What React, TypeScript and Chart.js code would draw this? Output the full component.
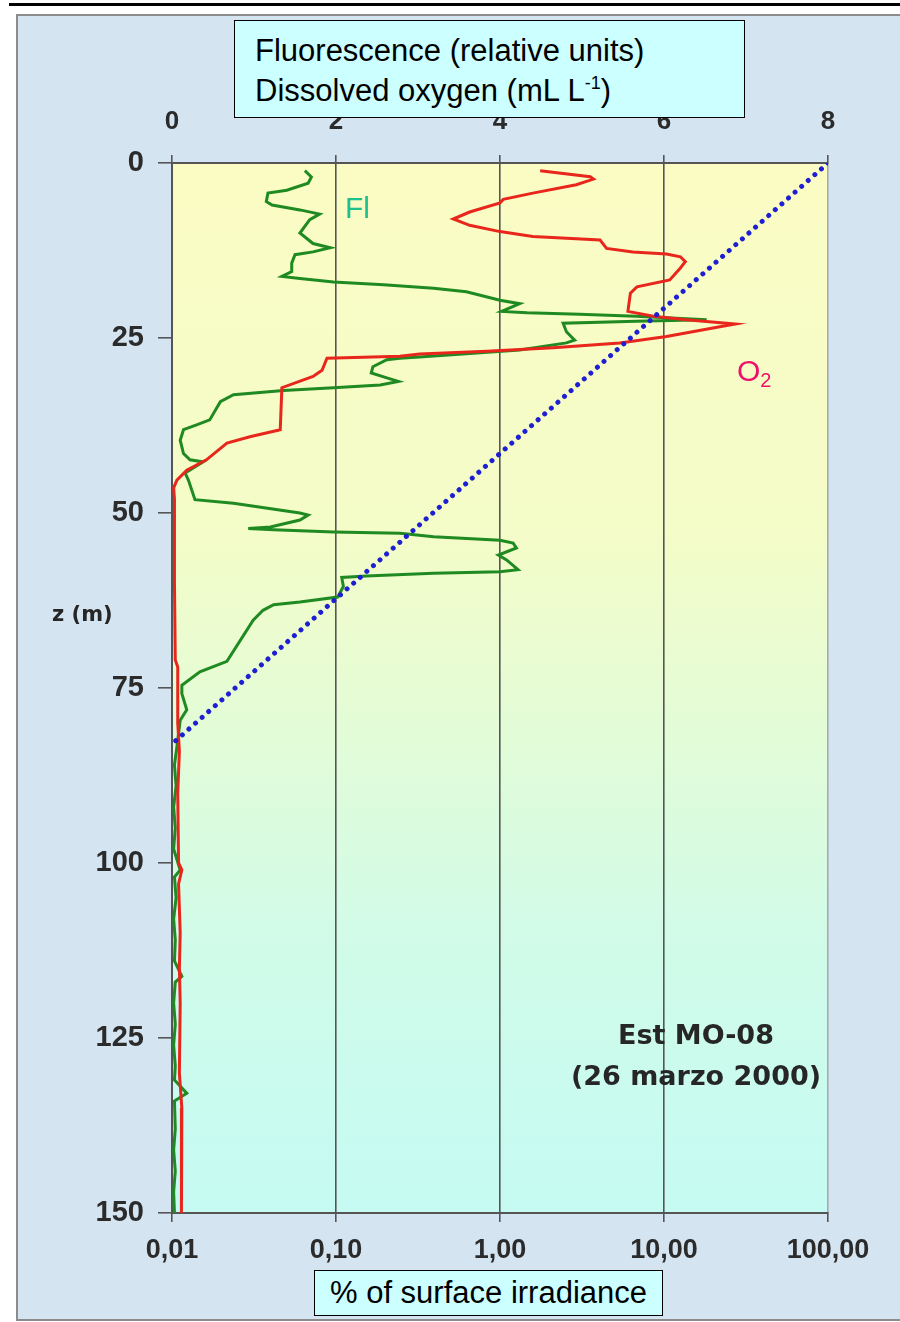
import React, { useEffect, useRef } from "react";
import { Chart, registerables } from "chart.js";

Chart.register(...registerables);

// ---------- data ----------
// Fluorescence profile (relative units) vs depth (m)
const flDepth = [
  1.1, 2.0, 2.9, 3.9, 4.3, 5.5, 6.0, 6.7, 7.3, 8.1, 10.0, 11.5, 12.1, 12.7, 13.1, 14.3, 15.5, 16.2, 16.5,
  17.0, 17.4, 17.9, 18.4, 19.6, 20.1, 21.2, 21.4, 21.6, 21.9, 22.4, 22.6, 22.9, 24.1, 25.3, 25.7, 26.7,
  27.7, 27.9, 28.1, 29.1, 30.0, 30.7, 31.2, 31.7, 32.1, 32.5, 33.1, 34.1, 36.7, 37.4, 38.1, 39.6, 41.5,
  42.4, 42.7, 44.3, 45.3, 48.1, 48.6, 50.0, 50.3, 51.0, 52.0, 52.2, 52.4, 52.7, 52.9, 53.4, 53.9, 54.3,
  55.0, 56.0, 56.7, 58.1, 58.4, 58.6, 59.0, 59.2, 60.5, 62.0, 62.7, 63.1, 63.9, 65.3, 71.2, 72.7, 74.6,
  75.8, 78.1, 79.6, 83.4, 86, 89, 92, 95, 98, 101, 102, 105, 108, 111, 114, 116.2, 117, 120, 123, 126,
  129, 131, 132.9, 134, 138, 141, 144, 147, 150,
];
const flValue = [
  1.62, 1.7, 1.66, 1.4, 1.17, 1.15, 1.22, 1.56, 1.8, 1.68, 1.56, 1.72, 1.93, 1.72, 1.5, 1.46, 1.46, 1.34, 1.56,
  1.97, 2.58, 3.19, 3.59, 4.0, 4.24, 4.02, 4.33, 4.97, 5.66, 6.52, 5.66, 4.77, 4.81, 4.91, 4.81, 4.24,
  3.02, 2.78, 2.62, 2.45, 2.43, 2.62, 2.76, 2.54, 1.97, 1.36, 0.75, 0.59, 0.46, 0.3, 0.14, 0.1, 0.14,
  0.22, 0.38, 0.16, 0.2, 0.28, 0.75, 1.56, 1.66, 1.56, 1.2, 0.93, 1.24, 1.97, 2.78, 3.19, 4.0, 4.16,
  4.2, 3.98, 4.08, 4.22, 4.0, 3.19, 2.37, 2.07, 2.09, 2.02, 1.56, 1.24, 1.11, 0.99, 0.67, 0.34, 0.12,
  0.12, 0.18, 0.1, 0.06, 0.03, 0.05, 0.02, 0.04, 0.02, 0.1, 0.03, 0.05, 0.02, 0.04, 0.03, 0.12, 0.04, 0.02, 0.04, 0.02,
  0.04, 0.03, 0.18, 0.03, 0.04, 0.02, 0.04, 0.02, 0.03,
];

// Dissolved oxygen profile (mL L-1) vs depth (m)
const o2Depth = [
  1.1, 1.96, 2.3, 3.1, 4.3, 5.2, 5.7, 7.0, 8.0, 8.9, 9.8, 10.5, 11.0, 12.2, 12.7, 13.0, 13.4, 14.1, 15.0,
  16.7, 17.7, 18.6, 21.2, 21.9, 22.4, 23.0, 23.4, 24.8, 25.7, 26.4, 26.9, 27.3, 27.6, 27.9, 29.6, 30.5,
  32.1, 38.1, 39.1, 40.0, 42.4, 43.9, 45.3, 46.4, 48, 60, 71, 72, 80, 84, 90, 100, 101, 103, 110, 115,
  120, 130, 135, 140, 150,
];
const o2Value = [
  4.49, 5.1, 5.14, 4.93, 4.4, 4.04, 4.0, 3.63, 3.43, 3.63, 4.0, 4.4, 5.22, 5.3, 5.62, 6.03, 6.2, 6.26, 6.2,
  6.07, 5.67, 5.59, 5.56, 5.87, 6.27, 6.87, 6.68, 6.03, 5.46, 4.65, 3.84, 3.02, 2.78, 1.89, 1.83, 1.72,
  1.34, 1.32, 0.95, 0.67, 0.42, 0.18, 0.06, 0.02, 0.03, 0.03, 0.04, 0.07, 0.07, 0.09, 0.07, 0.08, 0.12, 0.08, 0.1, 0.09,
  0.1, 0.09, 0.12, 0.11, 0.12,
];

// Light profile (% of surface irradiance)
const irrDepth = [0, 83];
const irrValue = [100, 0.01];

// Axis ticks
const topTicks = [0, 2, 4, 6, 8];
const depthTicks = [0, 25, 50, 75, 100, 125, 150];
const irrTicks = [0.01, 0.1, 1, 10, 100];
const irrTickLabels = ["0,01", "0,10", "1,00", "10,00", "100,00"];

// Annotations
const stationLines = ["Est MO-08", "(26 marzo 2000)"];

const ARIAL = "Arial, 'Liberation Sans', sans-serif";
const DEJAVU = "'DejaVu Sans', Verdana, sans-serif";
const AXIS = "#555555";
const TICKTXT = "#2b2b2b";

const bgPlugin = {
  id: "plotBg",
  beforeDraw(chart: any) {
    const { ctx, chartArea: a } = chart;
    const g = ctx.createLinearGradient(0, a.top, 0, a.bottom);
    g.addColorStop(0, "#fbfcc4");
    g.addColorStop(0.35, "#f4fcc8");
    g.addColorStop(0.55, "#e2fcd8");
    g.addColorStop(0.75, "#d0fbe9");
    g.addColorStop(1, "#c5fbf3");
    ctx.save();
    ctx.fillStyle = g;
    ctx.fillRect(a.left, a.top, a.right - a.left, a.bottom - a.top);
    ctx.restore();
  },
};

const labelPlugin = {
  id: "labels",
  afterDraw(chart: any) {
    const { ctx } = chart;
    const xs = chart.scales.xTop;
    const ys = chart.scales.y;
    ctx.save();
    ctx.textBaseline = "middle";
    // Fl
    ctx.font = `30px ${ARIAL}`;
    ctx.fillStyle = "#1dbf8b";
    ctx.textAlign = "left";
    ctx.fillText("Fl", xs.getPixelForValue(2.11), ys.getPixelForValue(6.7));
    // O2
    ctx.fillStyle = "#ee106a";
    const ox = xs.getPixelForValue(6.89);
    const oy = ys.getPixelForValue(29.9);
    ctx.fillText("O", ox, oy);
    const ow = ctx.measureText("O").width;
    ctx.font = `20px ${ARIAL}`;
    ctx.fillText("2", ox + ow, oy + 9);
    // station
    ctx.font = `bold 27px ${DEJAVU}`;
    ctx.fillStyle = "#262626";
    ctx.textAlign = "center";
    ctx.fillText(stationLines[0], xs.getPixelForValue(6.39), ys.getPixelForValue(124.9));
    ctx.fillText(stationLines[1], xs.getPixelForValue(6.39), ys.getPixelForValue(130.7));
    ctx.restore();
  },
};

export default function App() {
  const ref = useRef<HTMLCanvasElement | null>(null);

  useEffect(() => {
    document.body.style.margin = "0";
    const canvas = ref.current;
    if (!canvas) return;
    const toPts = (d: number[], v: number[]) => d.map((z, i) => ({ x: v[i], y: z }));
    const chart = new Chart(canvas, {
      type: "scatter",
      data: {
        datasets: [
          {
            label: "% of surface irradiance",
            data: toPts(irrDepth, irrValue),
            xAxisID: "xBottom",
            yAxisID: "y",
            showLine: true,
            borderColor: "#1e1ed2",
            borderWidth: 5,
            borderDash: [0.001, 8.8],
            borderCapStyle: "round",
            pointRadius: 0,
            fill: false,
          },
          {
            label: "O2",
            data: toPts(o2Depth, o2Value),
            xAxisID: "xTop",
            yAxisID: "y",
            showLine: true,
            borderColor: "#e8261c",
            borderWidth: 3,
            pointRadius: 0,
            tension: 0,
            fill: false,
          },
          {
            label: "Fl",
            data: toPts(flDepth, flValue),
            xAxisID: "xTop",
            yAxisID: "y",
            showLine: true,
            borderColor: "#1f8a22",
            borderWidth: 3,
            pointRadius: 0,
            tension: 0,
            fill: false,
          },
        ],
      },
      options: {
        responsive: false,
        animation: false,
        devicePixelRatio: 1,
        layout: { padding: { left: 0, right: 72, top: 0, bottom: 0 } },
        plugins: { legend: { display: false }, tooltip: { enabled: false } },
        scales: {
          xTop: {
            type: "linear",
            position: "top",
            min: topTicks[0],
            max: topTicks[topTicks.length - 1],
            afterBuildTicks: (s: any) => {
              s.ticks = topTicks.map((v) => ({ value: v }));
            },
            afterFit: (s: any) => {
              s.height = 163;
            },
            ticks: {
              autoSkip: false,
              maxRotation: 0,
              padding: 18,
              color: TICKTXT,
              font: { family: ARIAL, size: 26, weight: "bold" },
              callback: (v: any) => String(v),
            },
            grid: {
              color: (c: any) => (c.tick && c.tick.value === 8 ? "#a3adad" : AXIS),
              tickColor: AXIS,
              lineWidth: 1.6,
              tickLength: 8,
            },
            border: { display: true, color: AXIS, width: 2 },
          },
          xBottom: {
            type: "logarithmic",
            position: "bottom",
            min: irrTicks[0],
            max: irrTicks[irrTicks.length - 1],
            afterBuildTicks: (s: any) => {
              s.ticks = irrTicks.map((v) => ({ value: v }));
            },
            afterFit: (s: any) => {
              s.height = 109;
            },
            ticks: {
              autoSkip: false,
              maxRotation: 0,
              padding: 12,
              color: TICKTXT,
              font: { family: ARIAL, size: 27, weight: "bold" },
              callback: (v: any) => irrTickLabels[irrTicks.indexOf(Number(v))] ?? "",
            },
            grid: { drawOnChartArea: false, tickColor: AXIS, lineWidth: 1.6, tickLength: 9 },
            border: { display: true, color: AXIS, width: 2 },
          },
          y: {
            type: "linear",
            position: "left",
            reverse: true,
            min: depthTicks[0],
            max: depthTicks[depthTicks.length - 1],
            afterBuildTicks: (s: any) => {
              s.ticks = depthTicks.map((v) => ({ value: v }));
            },
            afterFit: (s: any) => {
              s.width = 172;
            },
            ticks: {
              autoSkip: false,
              padding: 14,
              color: TICKTXT,
              font: { family: ARIAL, size: 29, weight: "bold" },
              callback: (v: any) => String(v),
            },
            grid: { drawOnChartArea: false, tickColor: AXIS, lineWidth: 1.6, tickLength: 14 },
            border: { display: true, color: AXIS, width: 2 },
          },
        },
      },
      plugins: [bgPlugin, labelPlugin],
    } as any);
    return () => chart.destroy();
  }, []);

  return (
    <div style={{ position: "relative", width: 900, height: 1322, overflow: "hidden", background: "#ffffff" }}>
      <div style={{ position: "absolute", left: 9, top: 3, width: 891, height: 3, background: "#000" }} />
      <div
        style={{
          position: "absolute",
          left: 16,
          top: 14,
          right: -4,
          bottom: 1,
          border: "2px solid #8c8c8c",
          background: "#d5e4f1",
        }}
      />
      <canvas ref={ref} width={900} height={1322} style={{ position: "absolute", left: 0, top: 0, width: 900, height: 1322 }} />
      <div
        style={{
          position: "absolute",
          left: 52,
          top: 602,
          font: `bold 21px ${DEJAVU}`,
          color: "#262626",
          whiteSpace: "nowrap",
        }}
      >
        z (m)
      </div>
      <div
        style={{
          position: "absolute",
          left: 234,
          top: 20,
          width: 511,
          height: 98,
          boxSizing: "border-box",
          border: "1.5px solid #000",
          background: "#ccffff",
          padding: "10px 0 0 20px",
          font: `31px ${ARIAL}`,
          lineHeight: "40px",
          color: "#000",
          whiteSpace: "nowrap",
        }}
      >
        <div>Fluorescence (relative units)</div>
        <div>
          Dissolved oxygen (mL L
          <span style={{ fontSize: 18, position: "relative", top: -12 }}>-1</span>)
        </div>
      </div>
      <div
        style={{
          position: "absolute",
          left: 314,
          top: 1270,
          width: 349,
          height: 46,
          boxSizing: "border-box",
          border: "1.5px solid #000",
          background: "#ccffff",
          font: `31px ${ARIAL}`,
          lineHeight: "43px",
          textAlign: "center",
          color: "#000",
          whiteSpace: "nowrap",
        }}
      >
        % of surface irradiance
      </div>
    </div>
  );
}
